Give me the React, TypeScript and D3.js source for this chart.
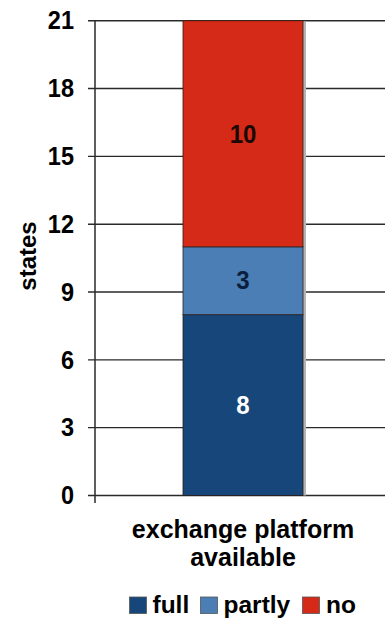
import React from "react";
import * as d3 from "d3";

const categories = ["exchange platform available"];
const seriesNames = ["full", "partly", "no"];
const seriesValues = [8, 3, 10];
const seriesColors = ["#16467a", "#4a7eb4", "#d52a17"];
const labelColors = ["#ffffff", "#0b1f3d", "#1a0904"];
const yTicks = [0, 3, 6, 9, 12, 15, 18, 21];

const W = 385;
const H = 619;
const FONT = "'Liberation Sans', Arial, sans-serif";

export default function App() {
  const y = d3.scaleLinear().domain([0, 21]).range([495.5, 20.7]);
  const x = d3.scaleBand().domain(categories).range([95, 391]).paddingInner(0).paddingOuter(0.733);

  const stack = d3.stack<Record<string, number>>().keys(seriesNames);
  const row: Record<string, number> = {};
  seriesNames.forEach((k, i) => (row[k] = seriesValues[i]));
  const layers = stack([row]);

  const bx = x(categories[0]) as number;
  const bw = x.bandwidth();
  const top = y(d3.sum(seriesValues));

  return (
    <svg width={W} height={H} style={{ position: "absolute", left: 0, top: 0, background: "#fff" }} fontFamily={FONT}>
      {/* gridlines and y ticks */}
      {yTicks.map((t) => (
        <g key={t}>
          <line x1={88} x2={W} y1={y(t)} y2={y(t)} stroke="#2a2a2a" strokeWidth={1.4} />
          <text
            transform={`translate(74,${y(t)}) scale(1,1.07)`}
            textAnchor="end"
            dominantBaseline="central"
            fontSize={23.5}
            fontWeight="bold"
            fill="#000"
          >
            {t}
          </text>
        </g>
      ))}
      <line x1={95} x2={95} y1={y(21)} y2={503} stroke="#2a2a2a" strokeWidth={1.5} />

      {/* bar shadow */}
      <rect x={bx + bw} y={top + 1} width={3} height={y(0) - top - 1} fill="#b4b4b4" />

      {/* stacked segments */}
      {layers.map((layer, i) => {
        const [y0, y1] = layer[0];
        return (
          <g key={layer.key}>
            <rect
              x={bx}
              y={y(y1)}
              width={bw}
              height={y(y0) - y(y1)}
              fill={seriesColors[i]}
              stroke="#2b1a14"
              strokeOpacity={0.75}
              strokeWidth={1}
            />
            <text
              transform={`translate(${bx + bw / 2},${y((y0 + y1) / 2)}) scale(1,1.07)`}
              textAnchor="middle"
              dominantBaseline="central"
              fontSize={24}
              fontWeight="bold"
              fill={labelColors[i]}
            >
              {seriesValues[i]}
            </text>
          </g>
        );
      })}

      {/* y axis title */}
      <text
        transform={`translate(27,256) rotate(-90)`}
        textAnchor="middle"
        dominantBaseline="central"
        fontSize={24}
        fontWeight="bold"
        fill="#000"
      >
        states
      </text>

      {/* category label */}
      <text x={243} textAnchor="middle" fontSize={25} fontWeight="bold" fill="#000">
        <tspan x={243} y={538}>exchange platform</tspan>
        <tspan x={243} y={566}>available</tspan>
      </text>

      {/* legend */}
      {[
        { sx: 129.5, tx: 152.5 },
        { sx: 200.5, tx: 223.5 },
        { sx: 302.5, tx: 326 },
      ].map((p, i) => (
        <g key={seriesNames[i]}>
          <rect x={p.sx} y={597} width={17} height={16.5} fill={seriesColors[i]} stroke="#555" strokeWidth={0.8} />
          <text x={p.tx} y={613} fontSize={24.5} fontWeight="bold" fill="#000">
            {seriesNames[i]}
          </text>
        </g>
      ))}
    </svg>
  );
}
